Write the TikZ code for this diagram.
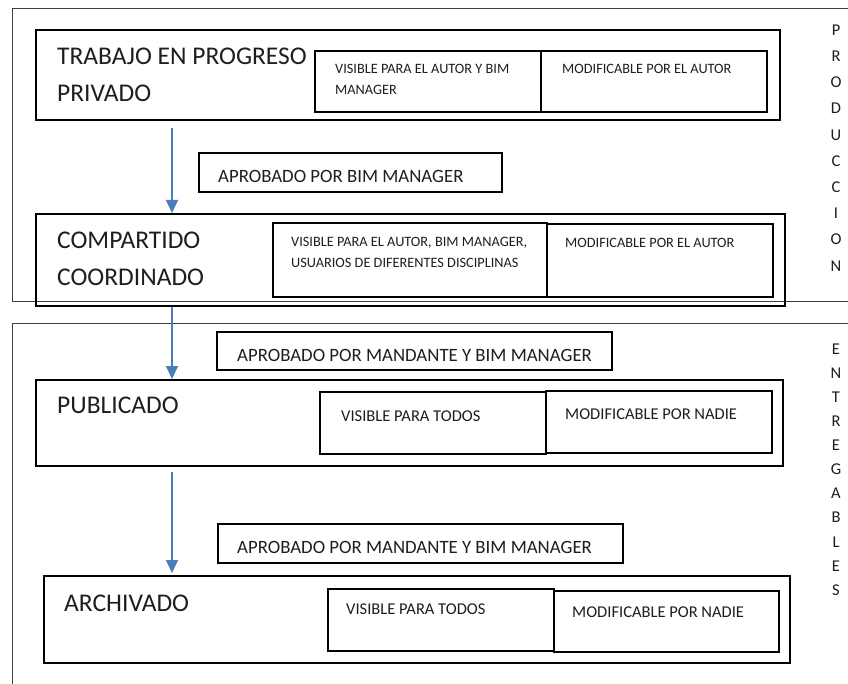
\documentclass[tikz,border=0pt]{standalone}
\usepackage{fontspec}
\setmainfont{Carlito}
\usetikzlibrary{arrows.meta}

\definecolor{flowblue}{HTML}{4A7EBB}
\definecolor{ink}{HTML}{1E1E1E}
\definecolor{framegray}{HTML}{404040}

\tikzset{
  stagebox/.style={draw=black, line width=2pt, inner sep=0pt, outer sep=0pt, anchor=north west},
  cellbox/.style={draw=black, line width=1.8pt, inner sep=0pt, outer sep=0pt, anchor=north west},
  notebox/.style={draw=black, line width=1.8pt, inner sep=0pt, outer sep=0pt, anchor=north west},
  title/.style={anchor=base west, inner sep=0pt, text=ink, font=\fontsize{25.5}{30}\selectfont},
  smalltext/.style={anchor=base west, inner sep=0pt, text=ink, font=\fontsize{14.3}{17}\selectfont},
  midtext/.style={anchor=base west, inner sep=0pt, text=ink, font=\fontsize{16.5}{20}\selectfont},
  notetext/.style={anchor=base west, inner sep=0pt, text=ink, font=\fontsize{18.8}{22}\selectfont},
  sideletter/.style={anchor=center, inner sep=0pt, text=ink, font=\fontsize{16.5}{20}\selectfont},
  flow/.style={draw=flowblue, line width=1.5pt, -{Triangle[width=12pt,length=13pt]}},
  frameline/.style={draw=framegray, line width=1pt},
}

\begin{document}
\begin{tikzpicture}[x=1pt, y=-1pt]
  \clip (0,0) rectangle (848,684);
  \fill[white] (0,0) rectangle (848,684);

  % phase frames (they run past the right and bottom edges)
  \draw[frameline] (12,9) rectangle (880,302);
  \draw[frameline] (12,324) rectangle (880,720);

  % column of the arrows
  \coordinate (ax) at (172,0);

  % ---- stage 1
  \node[stagebox, minimum width=744pt, minimum height=90pt] (s1) at (36,30) {};
  \node[title] (s1a) at (57,65) {TRABAJO EN PROGRESO};
  \node[title] (s1b) at (57,102) {PRIVADO};
  \node[cellbox, minimum width=226pt, minimum height=61pt] (v1) at (315,51) {};
  \node[cellbox, minimum width=226pt, minimum height=61pt] (m1) at (541,51) {};
  \node[smalltext] (v1a) at (335,74) {VISIBLE PARA EL AUTOR Y BIM};
  \node[smalltext] (v1b) at (335,95) {MANAGER};
  \node[smalltext] (m1a) at (562,74) {MODIFICABLE POR EL AUTOR};

  % approval 1
  \node[notebox, minimum width=303pt, minimum height=39pt] (a1) at (199,153) {};
  \node[notetext] (a1t) at (218,183) {APROBADO POR BIM MANAGER};

  % ---- stage 2
  \node[stagebox, minimum width=749pt, minimum height=92pt] (s2) at (36,214) {};
  \node[title] (s2a) at (57,249) {COMPARTIDO};
  \node[title] (s2b) at (57,286) {COORDINADO};
  \node[cellbox, minimum width=274pt, minimum height=74pt] (v2) at (273,223) {};
  \node[cellbox, minimum width=226pt, minimum height=73pt] (m2) at (547,224) {};
  \node[smalltext] (v2a) at (291,247) {VISIBLE PARA EL AUTOR, BIM MANAGER,};
  \node[smalltext] (v2b) at (291,268) {USUARIOS DE DIFERENTES DISCIPLINAS};
  \node[smalltext] (m2a) at (565,248) {MODIFICABLE POR EL AUTOR};

  % approval 2
  \node[notebox, minimum width=395pt, minimum height=38pt] (a2) at (217,332) {};
  \node[notetext] (a2t) at (237,361) {APROBADO POR MANDANTE Y BIM MANAGER};

  % ---- stage 3
  \node[stagebox, minimum width=747pt, minimum height=86pt] (s3) at (36,380) {};
  \node[title] (s3a) at (57,413) {PUBLICADO};
  \node[cellbox, minimum width=226pt, minimum height=62pt] (v3) at (320,392) {};
  \node[cellbox, minimum width=226pt, minimum height=62pt] (m3) at (546,391) {};
  \node[midtext] (v3a) at (341,421) {VISIBLE PARA TODOS};
  \node[midtext] (m3a) at (565,419) {MODIFICABLE POR NADIE};

  % approval 3
  \node[notebox, minimum width=405pt, minimum height=39pt] (a3) at (218,524) {};
  \node[notetext] (a3t) at (237,553) {APROBADO POR MANDANTE Y BIM MANAGER};

  % ---- stage 4
  \node[stagebox, minimum width=746pt, minimum height=87pt] (s4) at (44,576) {};
  \node[title] (s4a) at (64,611) {ARCHIVADO};
  \node[cellbox, minimum width=226pt, minimum height=62pt] (v4) at (328,589) {};
  \node[cellbox, minimum width=225pt, minimum height=61pt] (m4) at (554,591) {};
  \node[midtext] (v4a) at (346,614) {VISIBLE PARA TODOS};
  \node[midtext] (m4a) at (572,617) {MODIFICABLE POR NADIE};

  % ---- transitions
  \draw[flow, shorten <=8pt, shorten >=1pt] (s1.south -| ax) -- (s2.north -| ax);
  \draw[flow, shorten <=1pt, shorten >=1pt] (s2.south -| ax) -- (s3.north -| ax);
  \draw[flow, shorten <=6pt, shorten >=3pt] (s3.south -| ax) -- (s4.north -| ax);

  % ---- phase labels, one letter per line
  \foreach \ch [count=\i from 0] in {P,R,O,D,U,C,C,I,O,N}
    \node[sideletter] (prod\i) at (836,30+26.2*\i) {\ch};
  \foreach \ch [count=\i from 0] in {E,N,T,R,E,G,A,B,L,E,S}
    \node[sideletter] (entr\i) at (836,349+24.1*\i) {\ch};
\end{tikzpicture}
\end{document}
